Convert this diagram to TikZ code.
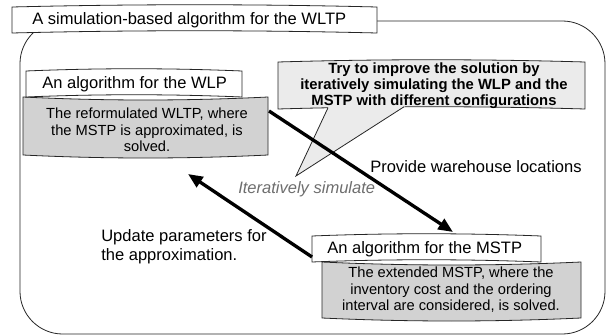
\documentclass[tikz,border=0pt]{standalone}
\usepackage{fontspec}
\setmainfont{Liberation Sans}
\usetikzlibrary{arrows.meta}
\definecolor{grayfill}{HTML}{D2D2D2}
\definecolor{callfill}{HTML}{EBEBEB}
\definecolor{itergray}{HTML}{6E6E6E}
% arched / sagging box: x0 y0 x1 y1 k style
\newcommand\archbox[6]{%
  \path[#6] (#1,#2) .. controls ({#1+(#3-#1)/3},{#2-(#5)}) and ({#3-(#3-#1)/3},{#2-(#5)}) .. (#3,#2)
    -- (#3,#4) .. controls ({#3-(#3-#1)/3},{#4-(#5)}) and ({#1+(#3-#1)/3},{#4-(#5)}) .. (#1,#4) -- cycle;}
\begin{document}
\begin{tikzpicture}[x=0.75pt,y=-0.75pt,
  outline/.style={draw=black!85, line width=0.6pt},
  whitebox/.style={outline, fill=white},
  graybox/.style={outline, fill=grayfill},
  callbox/.style={outline, fill=callfill},
  lbl/.style={inner sep=0pt, font=\fontsize{12.4}{14}\selectfont},
  body/.style={inner sep=0pt, align=center, font=\fontsize{11}{12.4}\selectfont},
  calltext/.style={inner sep=0pt, align=center, font=\fontsize{11.1}{12}\selectfont\bfseries},
  itertext/.style={inner sep=0pt, text=itergray, font=\fontsize{12.4}{14}\selectfont\itshape},
  flow/.style={line width=2.5pt, -{Triangle[length=11pt,width=9pt]}}]
\useasboundingbox (0,0) rectangle (608,335);

% container
\draw[outline, rounded corners=32pt] (20,21) rectangle (605,334);
% title
\archbox{12}{7}{377}{33}{3}{whitebox}
\node[lbl, anchor=west] (title) at (32,20) {A simulation-based algorithm for the WLTP};

% WLP boxes
\archbox{23}{97}{268}{155}{-4}{graybox}
\archbox{26}{71}{242}{97}{3}{whitebox}
\node[lbl, anchor=west] (wlplabel) at (42,84) {An algorithm for the WLP};
\node[body] (wlpbody) at (147,130) {The reformulated WLTP, where\\the MSTP is approximated, is\\solved.};

% callout
\archbox{278}{62}{585}{109}{3}{callbox}
\fill[callfill] (330.3,103) -- (296,176) -- (409.9,103) -- cycle;
\draw[outline, line join=miter] (328,107.8) -- (296,176) -- (404,106.8);
\node[calltext] (calltxt) at (434,86) {Try to improve the solution by\\iteratively simulating the WLP and the\\MSTP with different configurations};

% MSTP boxes
\archbox{322}{262}{581}{318}{-4}{graybox}
\archbox{312}{236}{541}{262}{3}{whitebox}
\node[lbl, anchor=west] (mstplabel) at (327,249) {An algorithm for the MSTP};
\node[body] (mstpbody) at (451,290) {The extended MSTP, where the\\inventory cost and the ordering\\interval are considered, is solved.};

% labels
\node[lbl, anchor=west] (provide) at (370,167) {Provide warehouse locations};
\node[itertext, anchor=west] (iter) at (238,189) {Iteratively simulate};
\node[lbl, anchor=west, align=left, font=\fontsize{12.4}{14.3}\selectfont] (update) at (101,246.5) {Update parameters for\\the approximation.};

% arrows
\coordinate (wlpout) at (269,111);
\coordinate (mstpin) at (453,232);
\coordinate (mstpout) at (312,257);
\coordinate (wlpin) at (188,174);
\draw[flow] (wlpout) -- (mstpin);
\draw[flow] (mstpout) -- (wlpin);
\end{tikzpicture}
\end{document}
